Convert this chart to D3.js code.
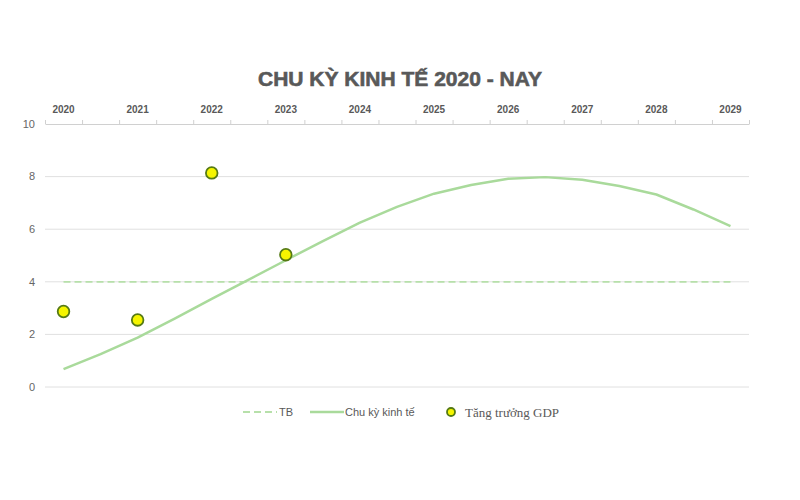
<!DOCTYPE html>
<html><head><meta charset="utf-8">
<script src="https://cdn.jsdelivr.net/npm/d3@7"></script>
<style>body{margin:0;background:#fff}</style>
</head><body>
<svg id="chart" width="800" height="500"></svg>
<script>
const years = [2020,2021,2022,2023,2024,2025,2026,2027,2028,2029];
const yTicks = [0,2,4,6,8,10];
const gdpYears = [2020,2021,2022,2023];
const gdpValues = [2.87,2.55,8.14,5.03];
const cycleX = [2020,2020.5,2021,2021.5,2022,2022.5,2023,2023.5,2024,2024.5,2025,2025.5,2026,2026.5,2027,2027.5,2028,2028.5,2029];
const cycleValues = [0.68,1.25,1.88,2.6,3.35,4.08,4.82,5.55,6.25,6.85,7.35,7.68,7.92,7.98,7.88,7.64,7.32,6.75,6.12];
const avgValue = 4;
const title = "CHU KỲ KINH TẾ 2020 - NAY";
const legendLabels = ["TB","Chu kỳ kinh tế","Tăng trưởng GDP"];

const svg = d3.select("#chart");
const x = d3.scaleLinear().domain([2019.75,2029.25]).range([45,749]);
const y = d3.scaleLinear().domain([0,10]).range([387,124]);
const gray = "#595959";

svg.append("text").attr("x",400).attr("y",86).attr("text-anchor","middle")
  .attr("font-family","Liberation Sans, Arial, sans-serif").attr("font-weight","bold")
  .attr("font-size",21).attr("fill",gray).attr("stroke",gray).attr("stroke-width",0.6)
  .text(title);

// gridlines
svg.append("g").selectAll("line").data(yTicks.filter(d=>d<10)).join("line")
  .attr("x1",45).attr("x2",749).attr("y1",d=>y(d)).attr("y2",d=>y(d))
  .attr("stroke","#e0e0e0").attr("stroke-width",1);

// y labels
svg.append("g").selectAll("text").data(yTicks).join("text")
  .attr("x",35).attr("y",d=>y(d)).attr("dy","0.35em").attr("text-anchor","end")
  .attr("font-family","Liberation Sans, Arial, sans-serif").attr("font-size",11).attr("fill","#666")
  .text(d=>d);

// top axis
const halfTicks = d3.range(2019.75,2029.3,0.5);
const ax = svg.append("g").attr("transform",`translate(0,${y(10)})`)
  .call(d3.axisTop(x).tickValues(halfTicks).tickSize(4).tickSizeOuter(0).tickFormat(""));
ax.select(".domain").attr("stroke","#d0d0d0");
ax.selectAll(".tick line").attr("stroke","#d0d0d0");

svg.append("g").selectAll("text").data(years).join("text")
  .attr("x",d=>x(d)).attr("y",113).attr("text-anchor","middle")
  .attr("font-family","Liberation Sans, Arial, sans-serif").attr("font-weight","bold")
  .attr("font-size",10).attr("fill",gray).text(d=>d);

// average dashed line
svg.append("line").attr("x1",x(2020)).attr("x2",x(2029)).attr("y1",y(avgValue)).attr("y2",y(avgValue))
  .attr("stroke","#b7e0aa").attr("stroke-width",1.8).attr("stroke-dasharray","7,4");

// cycle line
const line = d3.line().x((d,i)=>x(cycleX[i])).y(d=>y(d)).curve(d3.curveLinear);
svg.append("path").datum(cycleValues).attr("d",line).attr("fill","none")
  .attr("stroke","#a9da9b").attr("stroke-width",2.5).attr("stroke-linejoin","round");

// GDP points
svg.append("g").selectAll("circle").data(gdpValues).join("circle")
  .attr("cx",(d,i)=>x(gdpYears[i])).attr("cy",d=>y(d)).attr("r",5.8)
  .attr("fill","#f5f500").attr("stroke","#557a14").attr("stroke-width",1.8);

// legend
const ly = 412;
svg.append("line").attr("x1",243).attr("x2",277).attr("y1",ly).attr("y2",ly)
  .attr("stroke","#b7e0aa").attr("stroke-width",1.8).attr("stroke-dasharray","7,4");
svg.append("text").attr("x",279).attr("y",ly).attr("dy","0.35em")
  .attr("font-family","Liberation Sans, Arial, sans-serif").attr("font-size",11).attr("fill",gray).text(legendLabels[0]);
svg.append("line").attr("x1",310).attr("x2",344).attr("y1",ly).attr("y2",ly)
  .attr("stroke","#a9da9b").attr("stroke-width",2.5);
svg.append("text").attr("x",345).attr("y",ly).attr("dy","0.35em")
  .attr("font-family","Liberation Sans, Arial, sans-serif").attr("font-size",11).attr("fill",gray).text(legendLabels[1]);
svg.append("circle").attr("cx",451).attr("cy",ly).attr("r",4)
  .attr("fill","#f5f500").attr("stroke","#557a14").attr("stroke-width",1.8);
svg.append("text").attr("x",465).attr("y",ly).attr("dy","0.35em")
  .attr("font-family","Liberation Serif, Times New Roman, serif").attr("font-size",13).attr("fill",gray).text(legendLabels[2]);
</script>
</body></html>
